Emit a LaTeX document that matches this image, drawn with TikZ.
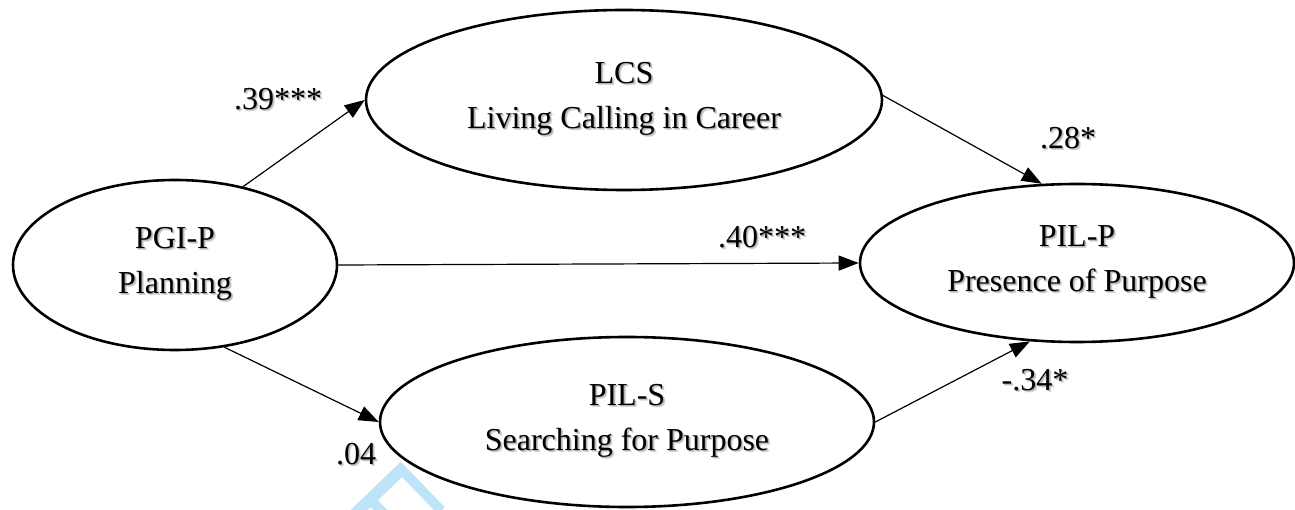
\documentclass[tikz,border=0pt]{standalone}
\usepackage{fontspec}
\setmainfont{Liberation Serif}
\newfontfamily\wmfont{Liberation Sans}
\usetikzlibrary{shapes.geometric,arrows.meta}
\definecolor{wmblue}{RGB}{190,228,248}
% soft drop shadow behind a line of text
\newcommand\shd[1]{\leavevmode\rlap{\kern2.2pt\raisebox{-2.2pt}{\textcolor{black!16}{#1}}}\rlap{\kern1.2pt\raisebox{-1.2pt}{\textcolor{black!30}{#1}}}#1}
\begin{document}
\begin{tikzpicture}[x=1pt,y=1pt,
  latent/.style={ellipse,draw=black,line width=2.6pt,inner sep=0pt,align=center,
    font=\fontsize{32}{45}\selectfont},
  path/.style={line width=1.2pt,-{Triangle[length=20pt,width=15pt]}},
  coef/.style={inner sep=0pt,font=\fontsize{32}{38}\selectfont}]
\useasboundingbox (0,0) rectangle (1295,-510);
\begin{scope}
\clip (0,0) rectangle (1295,-510);
% faint diagonal watermark
\node[anchor=base west,inner sep=0pt,rotate=-46,text=wmblue,
  font=\wmfont\fontsize{130}{130}\selectfont] (wm) at (329,-516) {F};
\end{scope}
% latent variables
\node[latent,minimum width=324pt,minimum height=170pt] (pgi) at (175,-265)
  {\shd{PGI-P}\\\shd{Planning}};
\node[latent,minimum width=516pt,minimum height=180pt] (lcs) at (624,-100)
  {\shd{LCS}\\\shd{Living Calling in Career}};
\node[latent,minimum width=434pt,minimum height=158pt] (pilp) at (1077,-263)
  {\shd{PIL-P}\\\shd{Presence of Purpose}};
\node[latent,minimum width=494pt,minimum height=170pt] (pils) at (627,-422)
  {\shd{PIL-S}\\\shd{Searching for Purpose}};
% structural paths
\draw[path] (pgi.49) -- (lcs.west);
\draw[path] (lcs.1) -- (pilp.114);
\draw[path] (pgi.east) -- (pilp.west);
\draw[path] (pgi.-59) -- (pils.west);
\draw[path] (pils.east) -- (pilp.239);
% path coefficients
\node[coef] (c1) at (278,-100) {\shd{.39***}};
\node[coef] (c2) at (1068,-139) {\shd{.28*}};
\node[coef] (c3) at (762,-238) {\shd{.40***}};
\node[coef] (c4) at (356,-455) {\shd{.04}};
\node[coef] (c5) at (1035,-381) {\shd{-.34*}};
\end{tikzpicture}
\end{document}
